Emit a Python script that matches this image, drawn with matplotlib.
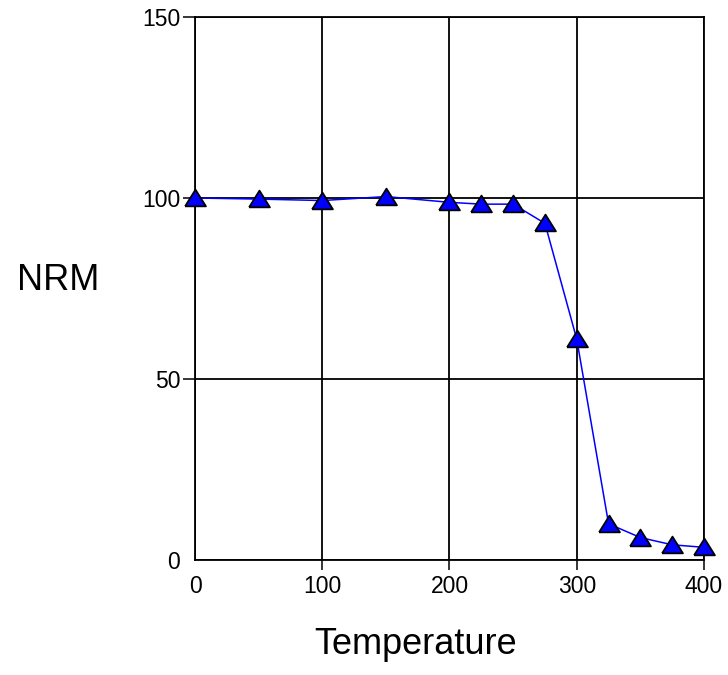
import matplotlib
matplotlib.use("Agg")
import matplotlib.pyplot as plt

plt.rcParams['font.family'] = ['Liberation Sans', 'DejaVu Sans']

temperature = [0, 50, 100, 150, 200, 225, 250, 275, 300, 325, 350, 375, 400]
nrm = [100, 99.7, 99.3, 100.4, 98.8, 98.3, 98.3, 93, 61, 10, 6.2, 4.2, 3.5]

x_ticks = [0, 100, 200, 300, 400]
y_ticks = [0, 50, 100, 150]

# slightly flattened up-pointing triangle
tri = [(-1, -0.75), (1, -0.75), (0, 0.85), (-1, -0.75)]

fig = plt.figure(figsize=(7.28, 6.75), dpi=100)
ax = fig.add_axes([195 / 728, 1 - 560 / 675, (704 - 195) / 728, (560 - 17) / 675])

ax.plot(temperature, nrm, color='#0000FF', lw=1.1, zorder=3, clip_on=False)
ax.plot(temperature, nrm, ls='none', marker=tri, ms=15, mfc='#0000FF',
        mec='black', mew=1.3, zorder=4, clip_on=False)

ax.set_xlim(0, 400)
ax.set_ylim(0, 150)
ax.set_xticks(x_ticks)
ax.set_yticks(y_ticks)
ax.grid(True, color='black', lw=1.3)
ax.set_axisbelow(True)
for s in ax.spines.values():
    s.set_color('black')
    s.set_linewidth(1.3)

ax.tick_params(axis='y', direction='out', length=8.6, width=1.1, pad=2, labelsize=16.5)
ax.tick_params(axis='x', direction='out', length=7, width=1.1, pad=4, labelsize=16.5)
for t in ax.yaxis.get_major_ticks()[:1] + ax.xaxis.get_major_ticks()[:1]:
    t.tick1line.set_visible(False)

fig.text(58 / 728, 1 - 281 / 675, 'NRM', fontsize=26, ha='center', va='center')
fig.text(416 / 728, 1 - 644 / 675, 'Temperature', fontsize=26, ha='center', va='center')

fig.savefig('out.png', dpi=100)
